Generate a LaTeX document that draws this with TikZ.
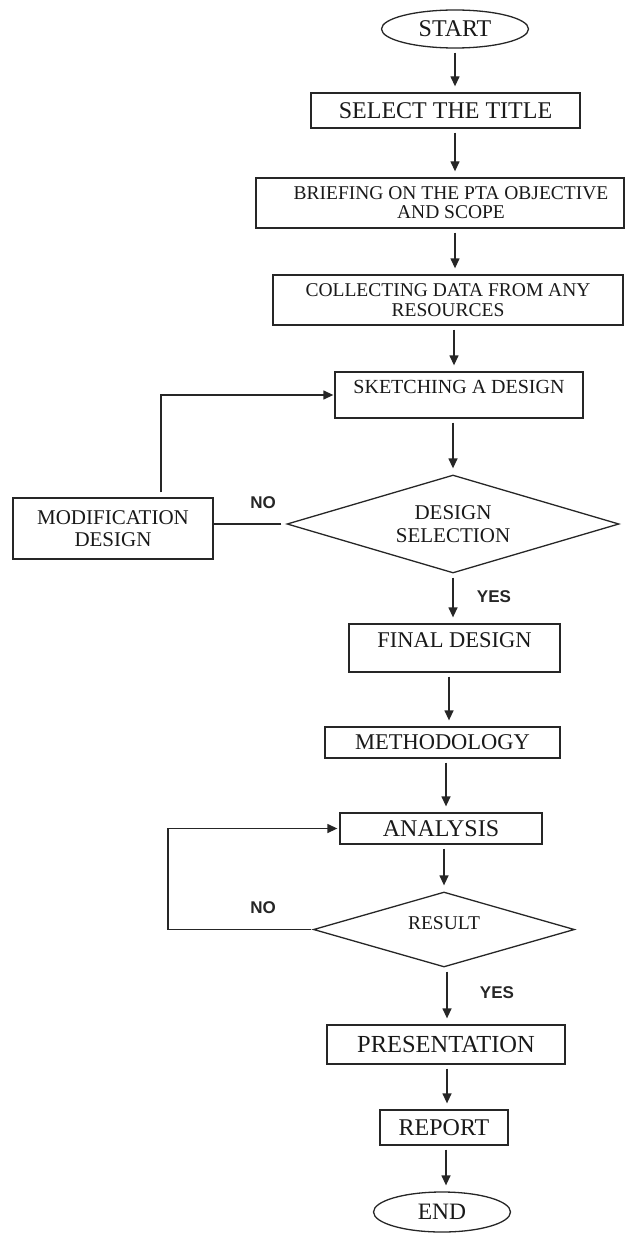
\documentclass[tikz,border=0pt]{standalone}
\usepackage{fontspec}
\setmainfont{Liberation Serif}
\newfontfamily\lblfont{Liberation Sans}
\usetikzlibrary{shapes.geometric,arrows.meta}
\begin{document}
\begin{tikzpicture}[x=1pt,y=-1pt,
  fs/.style 2 args={font=\fontsize{#1}{#2}\selectfont},
  box/.style={draw=black!85, line width=1.3pt, rectangle, inner sep=0pt, align=center, text=black!90},
  term/.style={draw=black!85, line width=1.3pt, ellipse, inner sep=0pt, text=black!90},
  dec/.style={draw=black!85, line width=1.3pt, diamond, inner sep=0pt, align=center, text=black!90},
  arr/.style={draw=black!85, line width=1.3pt, -{Triangle[length=10pt,width=9pt]}, shorten <=4pt, shorten >=6pt},
  conn/.style={draw=black!85, line width=1.3pt},
  lbl/.style={font=\lblfont\bfseries\fontsize{17}{19}\selectfont, text=black!85, inner sep=0pt}]
\useasboundingbox (0,0) rectangle (630,1233);

\node[term, minimum width=147pt, minimum height=38pt, fs={24}{26}] (start) at (455,29) {START};
\node[box, minimum width=269pt, minimum height=35pt, fs={24}{26}] (sel) at (445.5,110.5) {SELECT THE TITLE};
\node[box, minimum width=368pt, minimum height=50pt, label={[fs={19.5}{19},text=black!90,align=center,xshift=11pt]center:BRIEFING ON THE PTA OBJECTIVE\\AND SCOPE}] (brief) at (440,203) {};
\node[box, minimum width=350pt, minimum height=50pt, fs={19.5}{20}] (coll) at (448,300) {COLLECTING DATA FROM ANY\\RESOURCES};
\node[box, minimum width=248pt, minimum height=46pt, label={[fs={20}{22},text=black!90,yshift=8pt]center:SKETCHING A DESIGN}] (sketch) at (459,395) {};
\node[dec, minimum width=332pt, minimum height=98pt, aspect=3.4, fs={21}{23}] (dsel) at (453,524) {DESIGN\\SELECTION};
\node[box, minimum width=200pt, minimum height=61pt, fs={21}{22}] (mod) at (113,528.5) {MODIFICATION\\DESIGN};
\node[box, minimum width=211pt, minimum height=48pt, label={[fs={22.5}{24},text=black!90,yshift=8pt]center:FINAL DESIGN}] (final) at (454.5,648) {};
\node[box, minimum width=235pt, minimum height=31pt, fs={22.5}{24}] (meth) at (442.5,742.5) {METHODOLOGY};
\node[box, minimum width=202pt, minimum height=31pt, fs={24}{26}] (anal) at (441,828.5) {ANALYSIS};
\node[dec, minimum width=261pt, minimum height=75pt, aspect=3.5, label={[fs={19.5}{21},text=black!90,yshift=6pt]center:RESULT}] (result) at (444,929.5) {};
\node[box, minimum width=238pt, minimum height=39pt, fs={24.5}{26}] (pres) at (446,1044.5) {PRESENTATION};
\node[box, minimum width=128pt, minimum height=35pt, fs={24}{26}] (report) at (444,1127.5) {REPORT};
\node[term, minimum width=137pt, minimum height=40pt, fs={23.5}{25}] (end) at (442,1212) {END};

\node[lbl] (no1) at (263,503) {NO};
\node[lbl] (no2) at (263,908) {NO};
\node[lbl] (yes1) at (494,597) {YES};
\node[lbl] (yes2) at (497,993) {YES};

\draw[arr] (start.south) -- (start.south |- sel.north);
\draw[arr] (sel.south -| start) -- (brief.north -| start);
\draw[arr] (brief.south -| start) -- (coll.north -| start);
\draw[arr] (coll.south -| 454,0) -- (sketch.north -| 454,0);
\draw[arr] (sketch.south -| dsel) -- (dsel.north);
\draw[arr] (dsel.south) -- (final.north -| dsel);
\draw[arr] (final.south -| 449,0) -- (meth.north -| 449,0);
\draw[arr] (meth.south -| 446,0) -- (anal.north -| 446,0);
\draw[arr] (anal.south -| result) -- (result.north);
\draw[arr] (result.south -| 447,0) -- (pres.north -| 447,0);
\draw[arr] (pres.south -| 447,0) -- (report.north -| 447,0);
\draw[arr] (report.south -| 446,0) -- (end.north -| 446,0);

\draw[arr, shorten <=5pt, shorten >=1pt] (mod.north -| 161,0) |- (sketch.west);
\draw[conn, shorten <=5pt] (dsel.west) -- (dsel.west -| mod.east);
\draw[arr, shorten <=2pt, shorten >=2pt] (result.west) -- (result.west -| 168,0) |- (anal.west);
\end{tikzpicture}
\end{document}
